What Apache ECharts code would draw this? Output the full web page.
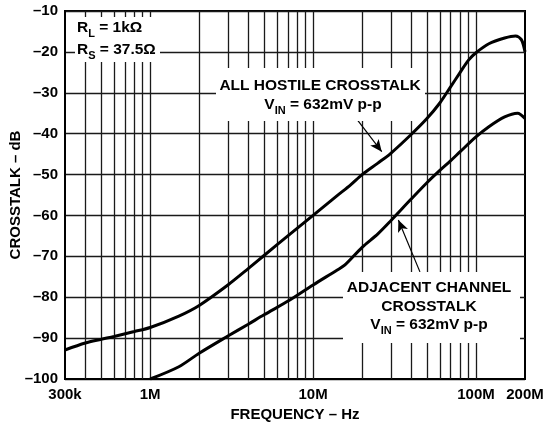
<!DOCTYPE html>
<html>
<head>
<meta charset="utf-8">
<script src="https://cdn.jsdelivr.net/npm/echarts@6/dist/echarts.min.js"></script>
<style>html,body{margin:0;padding:0;background:#fff}#c{width:545px;height:430px}</style>
</head>
<body>
<div id="c"></div>
<script>
// ---- data (frequency in Hz, crosstalk in dB) ----
var hostileFreq = [3e5, 4e5, 5e5, 6e5, 8e5, 1e6, 1.5e6, 2e6, 3e6, 4e6, 5e6, 7e6, 1e7, 1.4e7, 1.7e7, 2e7, 2.5e7, 3e7, 4e7, 5e7, 6e7, 7e7, 8e7, 9e7, 1e8, 1.2e8, 1.5e8, 1.75e8, 1.9e8, 2e8];
var hostileDb   = [-92.9, -91.2, -90.3, -89.6, -88.4, -87.4, -84.6, -82.0, -77.0, -73.0, -69.8, -65.0, -60.0, -55.2, -52.5, -50.0, -47.2, -44.8, -40.2, -36.3, -32.5, -28.5, -25.0, -22.0, -20.2, -18.0, -16.6, -16.1, -17.0, -20.0];
var adjacentFreq = [1e6, 1.5e6, 2e6, 3e6, 4e6, 5e6, 7.2e6, 1e7, 1.4e7, 1.57e7, 2e7, 2.5e7, 3e7, 4e7, 5e7, 6e7, 7e7, 8e7, 1e8, 1.2e8, 1.5e8, 1.8e8, 2e8];
var adjacentDb   = [-100, -97.0, -93.7, -89.5, -86.6, -84.3, -80.7, -77.0, -73.4, -72.1, -67.8, -64.5, -61.3, -56.0, -52.0, -49.0, -46.6, -44.4, -40.8, -38.3, -35.9, -35.0, -36.3];
var xTickValues = [3e5, 1e6, 1e7, 1e8, 2e8];
var xTickLabels = ['300k', '1M', '10M', '100M', '200M'];
var gridFreqs = [4e5, 5e5, 6e5, 7e5, 8e5, 9e5, 1e6, 2e6, 3e6, 4e6, 5e6, 6e6, 7e6, 8e6, 9e6, 1e7, 2e7, 3e7, 4e7, 5e7, 6e7, 7e7, 8e7, 9e7, 1e8];
var hostileArrow = [[1.81e7, -35.9], [2.64e7, -44.4]];
var adjacentArrow = [[4.53e7, -73.8], [3.34e7, -61.1]];

var FONT = '"Liberation Sans", Arial, Helvetica, sans-serif';
function pairs(xs, ys) { return xs.map(function (x, i) { return [x, ys[i]]; }); }

var chart = echarts.init(document.getElementById('c'), null, {renderer: 'canvas'});

var richStyles = {
  m: {fontSize: 15.5, fontWeight: 'bold', fontFamily: FONT, fill: '#000', lineHeight: 22},
  s: {fontSize: 11, fontWeight: 'bold', fontFamily: FONT, fill: '#000', lineHeight: 10, verticalAlign: 'bottom'}
};
function txt(str, x, y, align) {
  return {type: 'text', z: 30, style: {text: str, x: x, y: y, align: align, verticalAlign: 'middle', rich: richStyles, fontSize: 15.5, fontWeight: 'bold', fontFamily: FONT, fill: '#000'}};
}
function box(x, y, w, h) {
  return {type: 'rect', z: 15, shape: {x: x, y: y, width: w, height: h}, style: {fill: '#fff'}};
}

var option = {
  animation: false,
  backgroundColor: '#fff',
  grid: {left: 65, right: 20, top: 11, bottom: 51, containLabel: false, outerBoundsMode: 'none',
         show: true, borderColor: '#000', borderWidth: 2, backgroundColor: 'transparent'},
  xAxis: {
    type: 'log', logBase: 10, min: 3e5, max: 2e8,
    name: 'FREQUENCY – Hz', nameLocation: 'middle', nameGap: 28, nameMoveOverlap: false,
    nameTextStyle: {fontSize: 15, fontWeight: 'bold', fontFamily: FONT, color: '#000'},
    axisLine: {show: true, lineStyle: {color: '#000', width: 2}},
    axisTick: {show: false},
    splitLine: {show: false},
    axisLabel: {
      margin: 8, fontSize: 15, fontWeight: 'bold', fontFamily: FONT, color: '#000',
      showMinLabel: true, showMaxLabel: true,
      formatter: function (v) {
        for (var i = 0; i < xTickValues.length; i++) {
          if (Math.abs(xTickValues[i] - v) / xTickValues[i] < 1e-6) return xTickLabels[i];
        }
        return '';
      }
    }
  },
  yAxis: {
    type: 'value', min: -100, max: -10, interval: 10,
    name: 'CROSSTALK – dB', nameLocation: 'middle', nameGap: 42, nameMoveOverlap: false,
    nameTextStyle: {fontSize: 15, fontWeight: 'bold', fontFamily: FONT, color: '#000'},
    axisLine: {show: true, lineStyle: {color: '#000', width: 2}},
    axisTick: {show: false},
    splitLine: {show: true, lineStyle: {color: '#1a1a1a', width: 1.3}},
    axisLabel: {
      margin: 7, fontSize: 15, fontWeight: 'bold', fontFamily: FONT, color: '#000',
      formatter: function (v) { return v < 0 ? '–' + Math.abs(v) : String(v); }
    }
  },
  series: [
    {
      type: 'line', data: [], z: 1, silent: true,
      markLine: {
        silent: true, symbol: 'none', label: {show: false}, animation: false,
        lineStyle: {color: '#1a1a1a', type: 'solid', width: 1.3},
        data: gridFreqs.map(function (f) { return {xAxis: f}; })
      }
    },
    {
      type: 'line', name: 'All hostile', z: 20, data: pairs(hostileFreq, hostileDb),
      showSymbol: false, symbol: 'none', smooth: 0.3,
      lineStyle: {color: '#000', width: 3}
    },
    {
      type: 'line', name: 'Adjacent', z: 20, data: pairs(adjacentFreq, adjacentDb),
      showSymbol: false, symbol: 'none', smooth: 0.3,
      lineStyle: {color: '#000', width: 3}
    },
    {
      type: 'line', data: [], z: 30, silent: true,
      markLine: {
        silent: true, symbol: ['none', 'arrow'], symbolSize: [8, 12], label: {show: false}, animation: false,
        lineStyle: {color: '#000', type: 'solid', width: 1.2},
        data: [
          [{coord: hostileArrow[0]}, {coord: hostileArrow[1]}],
          [{coord: adjacentArrow[0]}, {coord: adjacentArrow[1]}]
        ]
      }
    }
  ],
  graphic: [
    box(75, 17, 85, 45),
    txt('{m|R}{s|L}{m| = 1kΩ}', 77, 28, 'left'),
    txt('{m|R}{s|S}{m| = 37.5Ω}', 77, 50, 'left'),
    box(216, 68, 209, 53),
    txt('{m|ALL HOSTILE CROSSTALK}', 320, 86, 'center'),
    txt('{m|V}{s|IN}{m| = 632mV p-p}', 323, 105, 'center'),
    box(343, 272, 177, 71),
    txt('{m|ADJACENT CHANNEL}', 429, 288, 'center'),
    txt('{m|CROSSTALK}', 429, 307, 'center'),
    txt('{m|V}{s|IN}{m| = 632mV p-p}', 429, 325, 'center')
  ]
};
chart.setOption(option);
</script>
</body>
</html>
